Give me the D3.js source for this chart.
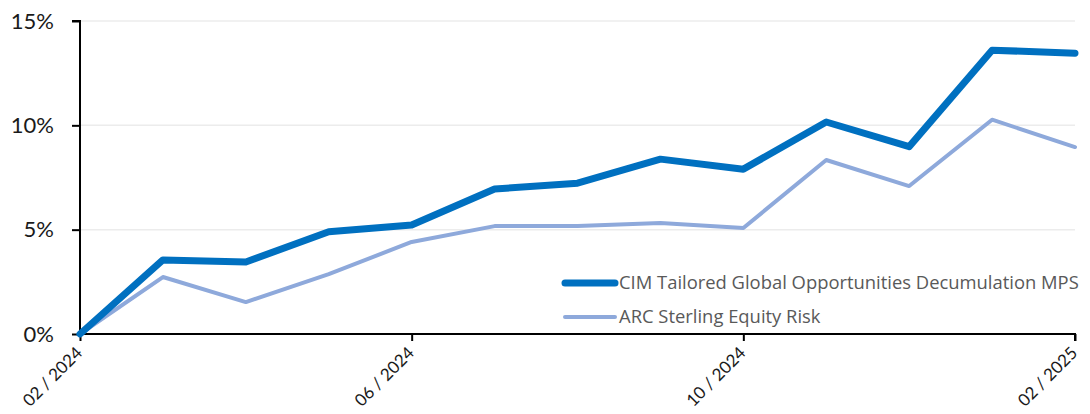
<!DOCTYPE html>
<html>
<head>
<meta charset="utf-8">
<script src="https://cdn.jsdelivr.net/npm/d3@7"></script>
<style>
  body { margin: 0; background: #fff; overflow: hidden; }
  svg { display: block; font-family: Lato, "Open Sans", sans-serif; }
</style>
</head>
<body>
<div id="chart"></div>
<script>
const width = 1090;
const height = 414;

const months = ["02/2024","03/2024","04/2024","05/2024","06/2024","07/2024","08/2024",
                "09/2024","10/2024","11/2024","12/2024","01/2025","02/2025"];
const cimValues = [0, 3.55, 3.45, 4.9, 5.22, 6.95, 7.23, 8.38, 7.9, 10.16, 8.98, 13.6, 13.46];
const arcValues = [0, 2.73, 1.53, 2.87, 4.41, 5.17, 5.17, 5.32, 5.08, 8.34, 7.09, 10.27, 8.96];
const seriesNames = ["CIM Tailored Global Opportunities Decumulation MPS", "ARC Sterling Equity Risk"];
const yTicks = [0, 5, 10, 15];
const xTickLabels = ["02 / 2024", "06 / 2024", "10 / 2024", "02 / 2025"];
const xTickIndex = [0, 4, 8, 12];

const colors = ["#0070C0", "#8EA9DB"];
const strokeWidths = [7, 4];

const plotLeft = 80, plotRight = 1075, plotTop = 21, plotBottom = 334;

let svg = d3.select("#chart")
            .append("svg")
            .attr("width", width)
            .attr("height", height);

let xScale = d3.scaleLinear()
               .domain([0, months.length - 1])
               .range([plotLeft, plotRight]);

let yScale = d3.scaleLinear()
               .domain([0, 15])
               .range([plotBottom, plotTop]);

// gridlines
svg.append("g")
   .selectAll("line")
   .data(yTicks.filter(t => t > 0))
   .enter()
   .append("line")
   .attr("x1", plotLeft)
   .attr("x2", plotRight)
   .attr("y1", d => yScale(d))
   .attr("y2", d => yScale(d))
   .attr("stroke", "#ececec")
   .attr("stroke-width", 1.5);

// y axis
let yAxis = d3.axisLeft(yScale)
              .tickValues(yTicks)
              .tickFormat(d => d + "%")
              .tickSize(8)
              .tickPadding(18);

let yG = svg.append("g")
   .attr("transform", `translate(${plotLeft}, 0)`)
   .call(yAxis);
yG.select(".domain").attr("stroke", "#000").attr("stroke-width", 2).attr("d", `M-8,${plotTop}H0V${plotBottom}`);
yG.selectAll(".tick line").attr("stroke", "#000").attr("stroke-width", 2);
yG.selectAll("text").attr("font-size", 22).attr("fill", "#1a1a1a").attr("font-family", "Lato, sans-serif");

// x axis
let xAxis = d3.axisBottom(xScale)
              .tickValues(xTickIndex)
              .tickFormat((d, i) => xTickLabels[i])
              .tickSizeInner(7)
              .tickSizeOuter(7);

let xG = svg.append("g")
   .attr("transform", `translate(0, ${plotBottom})`)
   .call(xAxis);
xG.select(".domain").attr("stroke", "#000").attr("stroke-width", 2).attr("d", `M${plotLeft},0H${plotRight}V7`);
xG.selectAll(".tick line").attr("stroke", "#000").attr("stroke-width", 2);
xG.selectAll("text")
  .attr("font-size", 17)
  .attr("fill", "#1a1a1a")
  .attr("font-family", "Lato, sans-serif")
  .attr("text-anchor", "end")
  .attr("dy", null)
  .attr("y", 0)
  .attr("transform", "translate(3, 20) rotate(-45)");

// lines
const allSeries = [cimValues, arcValues];
let line = d3.line()
             .x((d, i) => xScale(i))
             .y(d => yScale(d));

[1, 0].forEach(s => {
  svg.append("path")
     .datum(allSeries[s])
     .attr("fill", "none")
     .attr("stroke", colors[s])
     .attr("stroke-width", strokeWidths[s])
     .attr("stroke-linejoin", "round")
     .attr("stroke-linecap", "round")
     .attr("d", line);
});

// legend
let legend = svg.append("g").attr("transform", "translate(565, 283)");
seriesNames.forEach((name, i) => {
  let g = legend.append("g").attr("transform", `translate(0, ${i * 34})`);
  g.append("line")
   .attr("x1", 0).attr("x2", 50)
   .attr("stroke", colors[i])
   .attr("stroke-width", strokeWidths[i])
   .attr("stroke-linecap", "round");
  g.append("text")
   .attr("x", 54)
   .attr("dy", "0.35em")
   .attr("font-size", 18.4)
   .attr("font-family", "'Open Sans', sans-serif")
   .attr("fill", "#595959")
   .text(name);
});
</script>
</body>
</html>
